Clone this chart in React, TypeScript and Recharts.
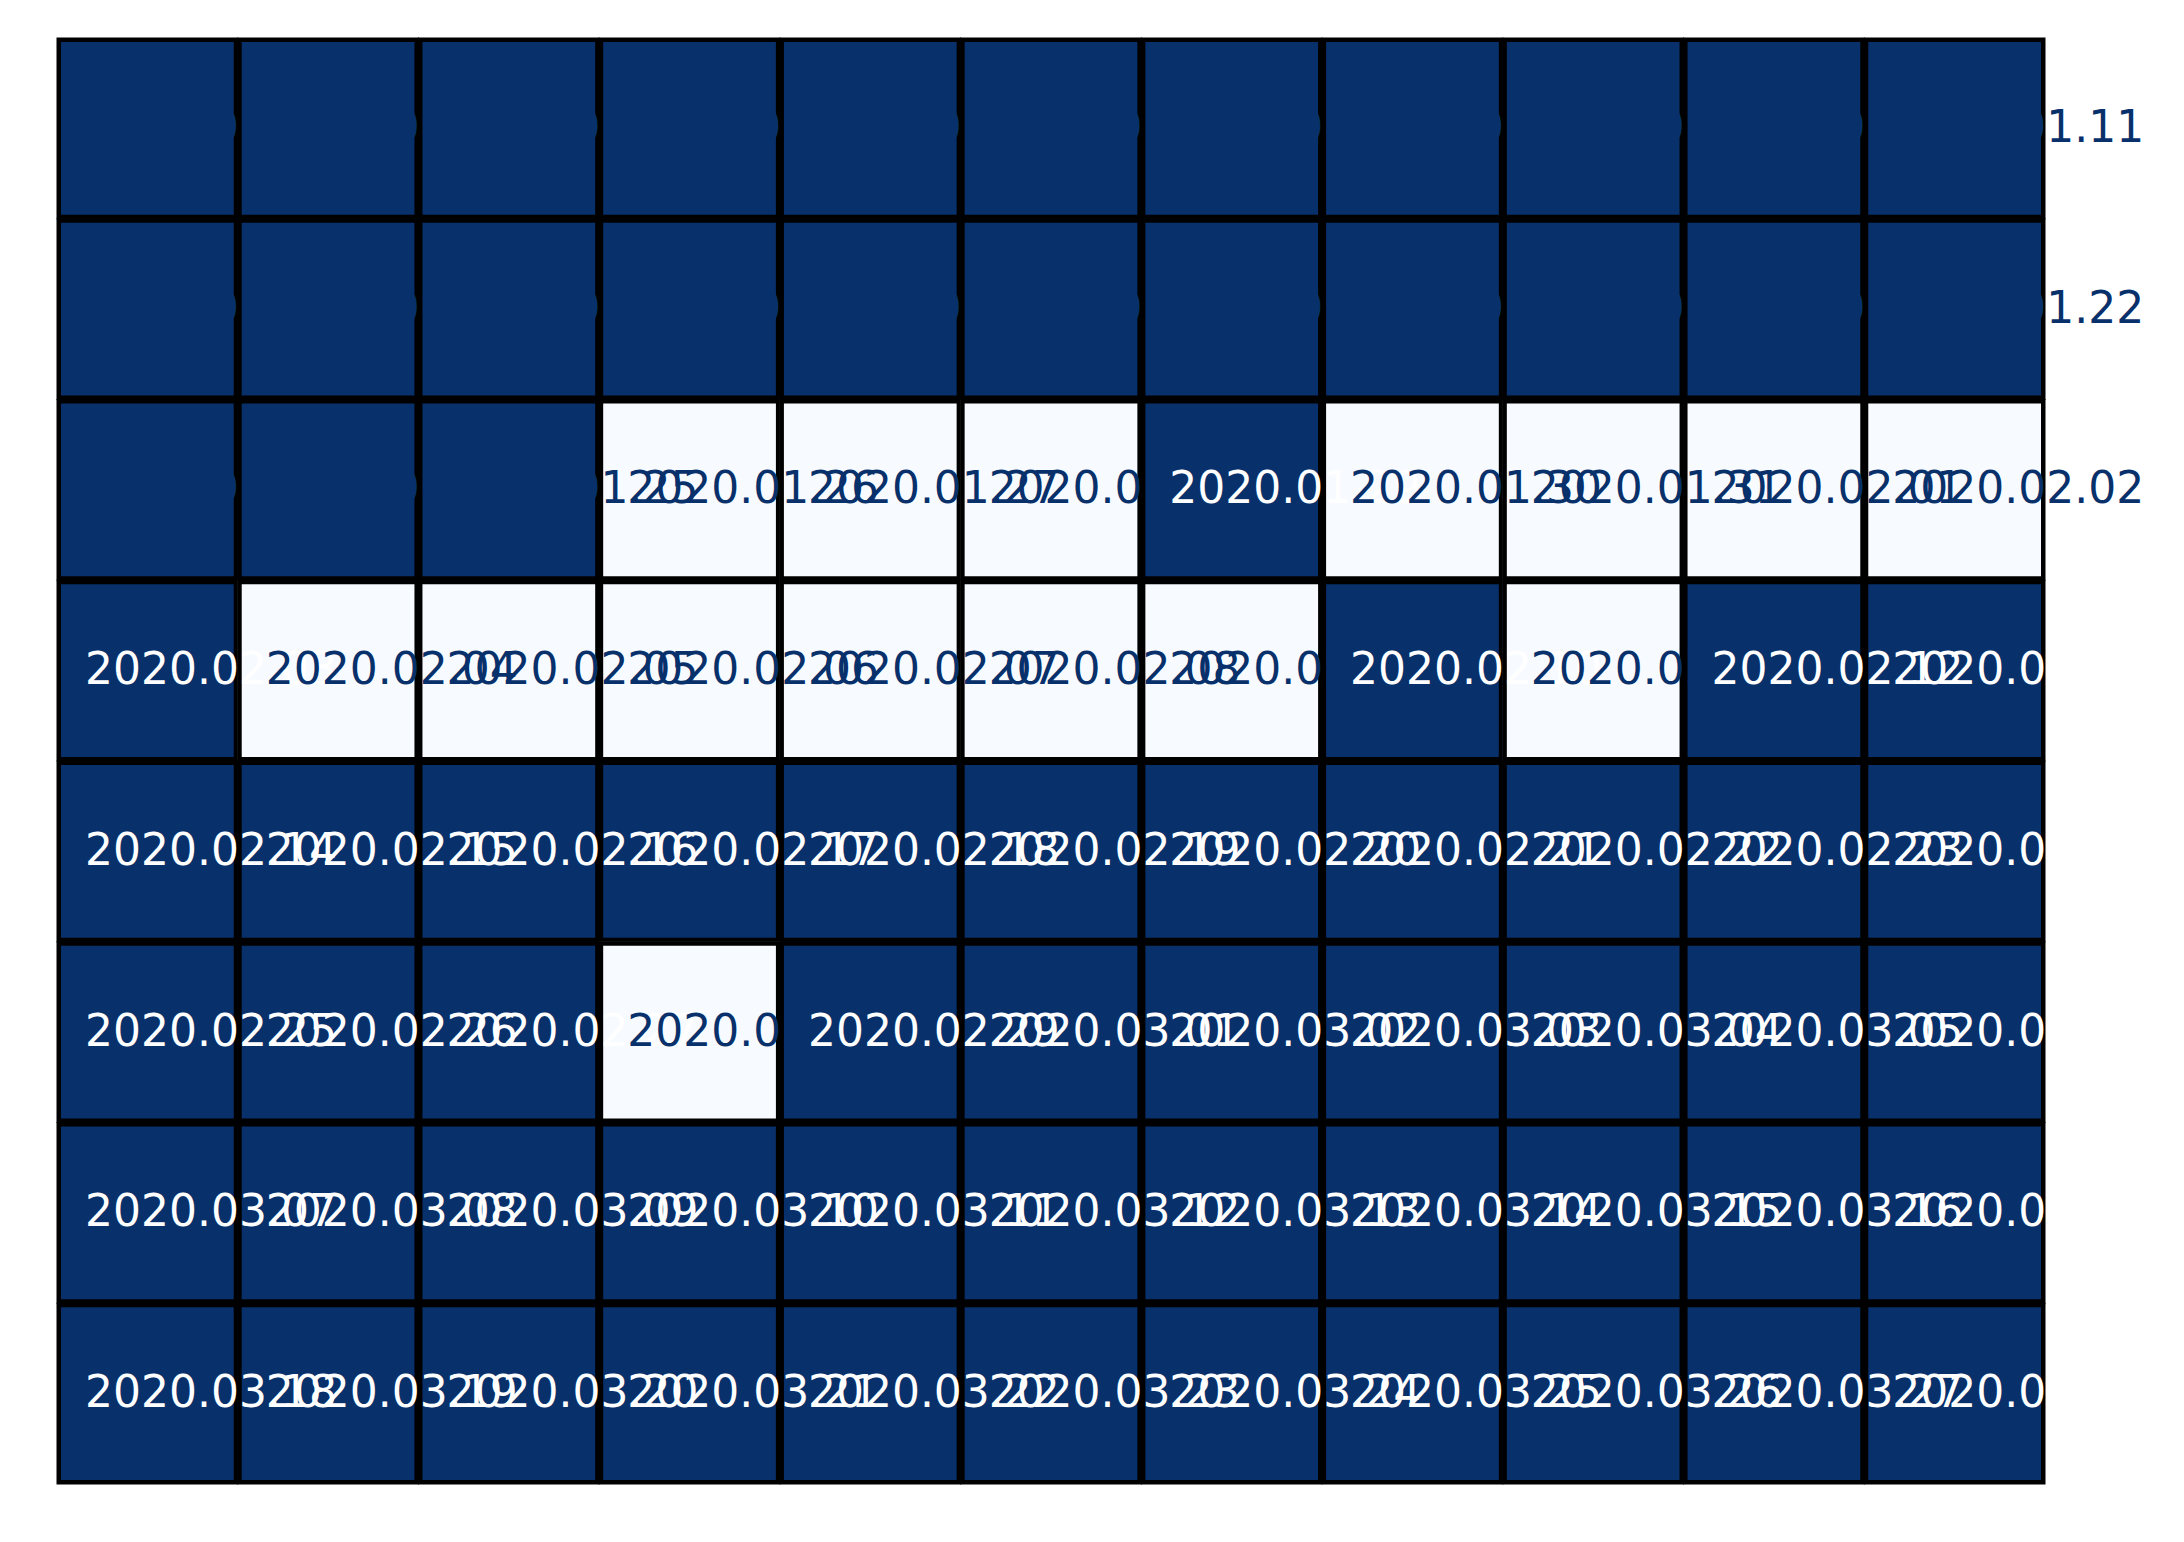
import React from 'react';
import { ScatterChart, Scatter, XAxis, YAxis } from 'recharts';

// ---- data ----
const ROW_INDEX = [0, 1, 2, 3, 4, 5, 6, 7];
const COL_INDEX = [0, 1, 2, 3, 4, 5, 6, 7, 8, 9, 10];

const dateRows: string[][] = [
  ['2020.01.01', '2020.01.02', '2020.01.03', '2020.01.04', '2020.01.05', '2020.01.06', '2020.01.07', '2020.01.08', '2020.01.09', '2020.01.10', '2020.01.11'],
  ['2020.01.12', '2020.01.13', '2020.01.14', '2020.01.15', '2020.01.16', '2020.01.17', '2020.01.18', '2020.01.19', '2020.01.20', '2020.01.21', '2020.01.22'],
  ['2020.01.23', '2020.01.24', '2020.01.25', '2020.01.26', '2020.01.27', '2020.01.28', '2020.01.29', '2020.01.30', '2020.01.31', '2020.02.01', '2020.02.02'],
  ['2020.02.03', '2020.02.04', '2020.02.05', '2020.02.06', '2020.02.07', '2020.02.08', '2020.02.09', '2020.02.10', '2020.02.11', '2020.02.12', '2020.02.13'],
  ['2020.02.14', '2020.02.15', '2020.02.16', '2020.02.17', '2020.02.18', '2020.02.19', '2020.02.20', '2020.02.21', '2020.02.22', '2020.02.23', '2020.02.24'],
  ['2020.02.25', '2020.02.26', '2020.02.27', '2020.02.28', '2020.02.29', '2020.03.01', '2020.03.02', '2020.03.03', '2020.03.04', '2020.03.05', '2020.03.06'],
  ['2020.03.07', '2020.03.08', '2020.03.09', '2020.03.10', '2020.03.11', '2020.03.12', '2020.03.13', '2020.03.14', '2020.03.15', '2020.03.16', '2020.03.17'],
  ['2020.03.18', '2020.03.19', '2020.03.20', '2020.03.21', '2020.03.22', '2020.03.23', '2020.03.24', '2020.03.25', '2020.03.26', '2020.03.27', '2020.03.28'],
];

// 0 = light cell, 1 = dark cell (white text), 2 = dark cell (dark text)
const valueRows: number[][] = [
  [2, 2, 2, 2, 2, 2, 2, 2, 2, 2, 2],
  [2, 2, 2, 2, 2, 2, 2, 2, 2, 2, 2],
  [2, 2, 2, 0, 0, 0, 1, 0, 0, 0, 0],
  [1, 0, 0, 0, 0, 0, 0, 1, 0, 1, 1],
  [1, 1, 1, 1, 1, 1, 1, 1, 1, 1, 1],
  [1, 1, 1, 0, 1, 1, 1, 1, 1, 1, 1],
  [1, 1, 1, 1, 1, 1, 1, 1, 1, 1, 1],
  [1, 1, 1, 1, 1, 1, 1, 1, 1, 1, 1],
];

// ---- layout / style ----
const WIDTH = 2184;
const HEIGHT = 1542;
const MARGIN = { top: 38, right: 139, bottom: 58, left: 57 };
const COLS = COL_INDEX.length;
const ROWS = ROW_INDEX.length;
const PLOT_W = WIDTH - MARGIN.left - MARGIN.right;
const PLOT_H = HEIGHT - MARGIN.top - MARGIN.bottom;
const CELL_W = PLOT_W / COLS;
const CELL_H = PLOT_H / ROWS;
const DARK = '#08306b';
const LIGHT = '#f7fbff';
const BORDER = 4.5; // inset stroke; overlaps neighbour by 0.5px to avoid seams
const FONT_SIZE = 44;
const TEXT_DX = 28;
const BASELINE_DY = 13.5;

type Cell = { col: number; row: number; value: number; label: string };

const cells: Cell[] = [];
ROW_INDEX.forEach((r) => {
  COL_INDEX.forEach((c) => {
    cells.push({ col: c, row: r, value: valueRows[r][c], label: dateRows[r][c] });
  });
});

const CellShape = (props: any) => {
  const { cx, cy, payload } = props;
  if (cx == null || cy == null) return null;
  const fill = payload.value === 0 ? LIGHT : DARK;
  const off = BORDER / 2 - 0.5;
  return (
    <g>
      <rect x={cx} y={cy} width={CELL_W} height={CELL_H} fill={fill} />
      <rect
        x={cx + off}
        y={cy + off}
        width={CELL_W - 2 * off}
        height={CELL_H - 2 * off}
        fill="none"
        stroke="#000"
        strokeWidth={BORDER}
      />
    </g>
  );
};

const LabelShape = (props: any) => {
  const { cx, cy, payload } = props;
  if (cx == null || cy == null) return null;
  const color = payload.value === 1 ? '#ffffff' : DARK;
  return (
    <text
      x={cx + TEXT_DX}
      y={cy + CELL_H / 2 + BASELINE_DY}
      fill={color}
      fontSize={FONT_SIZE}
      fontFamily="'DejaVu Sans', sans-serif"
      textAnchor="start"
    >
      {payload.label}
    </text>
  );
};

export default function App() {
  return (
    <div style={{ position: 'absolute', left: 0, top: 0, width: WIDTH, height: HEIGHT, background: '#ffffff' }}>
      <ScatterChart width={WIDTH} height={HEIGHT} margin={MARGIN}>
        <XAxis type="number" dataKey="col" domain={[0, COLS]} hide />
        <YAxis type="number" dataKey="row" domain={[0, ROWS]} reversed hide />
        <Scatter data={cells} shape={<CellShape />} isAnimationActive={false} />
        <Scatter data={cells} shape={<LabelShape />} isAnimationActive={false} />
      </ScatterChart>
    </div>
  );
}
